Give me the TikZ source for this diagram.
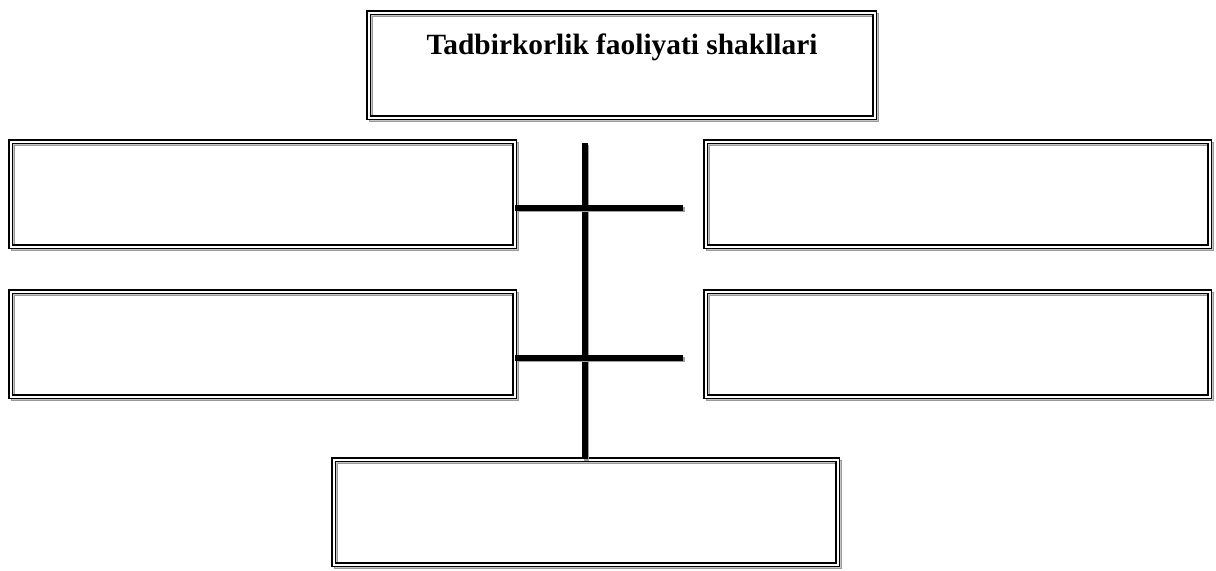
\documentclass[tikz,border=0pt]{standalone}
\usepackage{fontspec}
\setmainfont{Liberation Serif}
\usetikzlibrary{positioning}

\begin{document}
\begin{tikzpicture}[x=0.5pt, y=-0.5pt,
    framebox/.style={draw, double, double distance=1.1pt, line width=0.7pt,
      minimum width=252pt, minimum height=52.5pt, inner sep=0pt,
      preaction={draw=gray!80, double=gray!45, double distance=0.9pt, line width=0.6pt,
        transform canvas={shift={(1.3pt,-1.3pt)}}}},
    bar/.style={line width=2.8pt,
      preaction={draw=gray!75, line width=2.8pt, transform canvas={shift={(0.8pt,-0.8pt)}}}}]
    \useasboundingbox (0,0) rectangle (1216,570);

    % Title box
    \node[framebox, minimum width=253pt, anchor=north west] (top) at (368,12) {};
    \node[font=\fontsize{14.7}{17}\selectfont\bfseries, anchor=base] at (622,54) {Tadbirkorlik faoliyati shakllari};

    % Side boxes
    \node[framebox, anchor=north west] (lefta)  at (10,141)  {};
    \node[framebox, anchor=north west] (righta) at (705,141) {};
    \node[framebox, anchor=north west] (leftb)  at (10,291)  {};
    \node[framebox, anchor=north west] (rightb) at (705,291) {};

    % Bottom box
    \node[framebox, anchor=north west] (bottom) at (333,459) {};

    % Connectors
    \coordinate (spine) at (585,143);
    \coordinate (enda) at (683,208);
    \coordinate (endb) at (683,358);
    \draw[bar] (spine) -- (spine |- bottom.north);
    \draw[bar] (lefta.east |- enda) -- (enda);
    \draw[bar] (leftb.east |- endb) -- (endb);
\end{tikzpicture}
\end{document}
